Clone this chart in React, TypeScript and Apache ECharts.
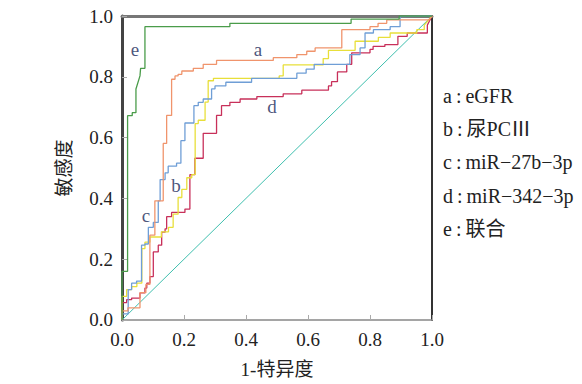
import React, { useEffect, useRef } from "react";
import * as echarts from "echarts";

const xTicks = [0, 0.2, 0.4, 0.6, 0.8, 1.0];
const legendLines = [
  "a\u2009:\u2009eGFR",
  "b\u2009:\u2009尿PCⅢ",
  "c\u2009:\u2009miR−27b−3p",
  "d\u2009:\u2009miR−342−3p",
  "e\u2009:\u2009联合",
];

const curveA: number[][] = [
  [0, 0], [0, 0.03], [0.019, 0.03], [0.019, 0.04], [0.058, 0.04], [0.058, 0.09], [0.077, 0.09],
  [0.077, 0.117], [0.09, 0.117], [0.09, 0.279], [0.106, 0.279], [0.106, 0.392], [0.133, 0.392],
  [0.133, 0.581], [0.144, 0.581], [0.144, 0.673], [0.16, 0.673], [0.16, 0.792], [0.171, 0.792],
  [0.171, 0.803], [0.181, 0.803], [0.181, 0.808], [0.193, 0.808], [0.193, 0.819], [0.23, 0.819],
  [0.23, 0.828], [0.262, 0.828], [0.262, 0.841], [0.305, 0.841], [0.305, 0.854], [0.488, 0.854],
  [0.488, 0.863], [0.564, 0.863], [0.564, 0.873], [0.596, 0.873], [0.596, 0.884], [0.623, 0.884],
  [0.623, 0.895], [0.709, 0.895], [0.709, 0.955], [0.8, 0.955], [0.8, 0.965], [0.826, 0.965],
  [0.826, 0.976], [0.854, 0.976], [0.854, 0.987], [0.99, 0.987], [1, 1],
];

const curveB: number[][] = [
  [0, 0], [0, 0.078], [0.015, 0.078], [0.015, 0.1], [0.031, 0.1], [0.031, 0.11], [0.048, 0.11],
  [0.048, 0.121], [0.064, 0.121], [0.064, 0.235], [0.074, 0.235], [0.074, 0.256], [0.09, 0.256],
  [0.09, 0.273], [0.127, 0.273], [0.127, 0.29], [0.15, 0.29], [0.15, 0.305], [0.165, 0.305],
  [0.165, 0.348], [0.181, 0.348], [0.181, 0.403], [0.193, 0.403], [0.193, 0.43], [0.209, 0.43],
  [0.209, 0.468], [0.225, 0.468], [0.225, 0.478], [0.236, 0.478], [0.236, 0.646], [0.246, 0.646],
  [0.246, 0.657], [0.268, 0.657], [0.268, 0.717], [0.278, 0.717], [0.278, 0.787], [0.295, 0.787],
  [0.295, 0.795], [0.507, 0.795], [0.507, 0.803], [0.52, 0.803], [0.52, 0.839], [0.649, 0.839],
  [0.649, 0.86], [0.666, 0.86], [0.666, 0.887], [0.752, 0.887], [0.752, 0.917], [0.827, 0.917],
  [0.827, 0.93], [0.865, 0.93], [0.865, 0.944], [0.951, 0.944], [0.951, 0.955], [0.975, 0.955],
  [0.975, 0.97], [1, 1],
];

const curveC: number[][] = [
  [0, 0], [0, 0.02], [0.02, 0.02], [0.02, 0.1], [0.031, 0.1], [0.031, 0.121], [0.047, 0.121],
  [0.047, 0.128], [0.063, 0.128], [0.063, 0.246], [0.074, 0.246], [0.074, 0.25], [0.085, 0.25],
  [0.085, 0.305], [0.101, 0.305], [0.101, 0.321], [0.117, 0.321], [0.117, 0.392], [0.123, 0.392],
  [0.123, 0.462], [0.139, 0.462], [0.139, 0.484], [0.149, 0.484], [0.149, 0.506], [0.176, 0.506],
  [0.176, 0.516], [0.19, 0.516], [0.19, 0.59], [0.203, 0.59], [0.203, 0.648], [0.232, 0.648],
  [0.232, 0.705], [0.246, 0.705], [0.246, 0.716], [0.262, 0.716], [0.262, 0.727], [0.289, 0.727],
  [0.289, 0.76], [0.3, 0.76], [0.3, 0.77], [0.335, 0.77], [0.335, 0.782], [0.418, 0.782],
  [0.418, 0.795], [0.564, 0.795], [0.564, 0.812], [0.594, 0.812], [0.594, 0.825], [0.62, 0.825],
  [0.62, 0.841], [0.735, 0.841], [0.735, 0.873], [0.768, 0.873], [0.768, 0.895], [0.784, 0.895],
  [0.784, 0.944], [0.811, 0.944], [0.811, 0.955], [0.865, 0.955], [0.865, 0.965], [0.897, 0.965],
  [0.897, 0.998], [1, 1],
];

const curveD: number[][] = [
  [0, 0], [0, 0.057], [0.015, 0.057], [0.015, 0.067], [0.031, 0.067], [0.031, 0.072], [0.058, 0.072],
  [0.058, 0.089], [0.074, 0.089], [0.074, 0.105], [0.08, 0.105], [0.08, 0.121], [0.09, 0.121],
  [0.09, 0.143], [0.101, 0.143], [0.101, 0.224], [0.117, 0.224], [0.117, 0.246], [0.128, 0.246],
  [0.128, 0.289], [0.139, 0.289], [0.139, 0.3], [0.144, 0.3], [0.144, 0.34], [0.16, 0.34],
  [0.16, 0.354], [0.203, 0.354], [0.203, 0.365], [0.219, 0.365], [0.219, 0.478], [0.235, 0.478],
  [0.235, 0.532], [0.262, 0.532], [0.262, 0.614], [0.305, 0.614], [0.305, 0.673], [0.321, 0.673],
  [0.321, 0.705], [0.348, 0.705], [0.348, 0.716], [0.381, 0.716], [0.381, 0.727], [0.435, 0.727],
  [0.435, 0.735], [0.52, 0.735], [0.52, 0.744], [0.58, 0.744], [0.58, 0.756], [0.666, 0.756],
  [0.666, 0.77], [0.676, 0.77], [0.676, 0.784], [0.695, 0.784], [0.695, 0.816], [0.725, 0.816],
  [0.725, 0.841], [0.741, 0.841], [0.741, 0.879], [0.8, 0.879], [0.8, 0.89], [0.81, 0.89],
  [0.81, 0.9], [0.848, 0.9], [0.848, 0.906], [0.89, 0.906], [0.89, 0.933], [0.92, 0.933],
  [0.92, 0.944], [0.985, 0.944], [0.985, 0.97], [1, 1],
];

const curveE: number[][] = [
  [0, 0], [0, 0.16], [0.018, 0.16], [0.018, 0.672], [0.033, 0.672], [0.033, 0.682], [0.045, 0.682],
  [0.045, 0.76], [0.058, 0.803], [0.06, 0.828], [0.074, 0.828], [0.074, 0.965], [0.348, 0.965],
  [0.348, 0.976], [0.739, 0.976], [0.739, 0.99], [0.894, 0.99], [0.894, 1], [1, 1],
];

const diagonal: number[][] = [[0, 0], [1, 1]];

const curveLabels = ["a", "b", "c", "d", "e"];
const curveLabelPos: number[][] = [[0.439, 0.89], [0.174, 0.442], [0.077, 0.344], [0.484, 0.701], [0.042, 0.89]];

const FONT = "'Liberation Serif', 'Noto Sans CJK SC', serif";

export default function App() {
  const ref = useRef<HTMLDivElement>(null);
  useEffect(() => {
    if (!ref.current) return;
    const chart = echarts.init(ref.current, null, { renderer: "svg" });
    const line = (data: number[][], color: string, width = 1.3) => ({
      type: "line",
      data,
      symbol: "none",
      silent: true,
      lineStyle: { color, width },
      z: 3,
    });
    chart.setOption({
      animation: false,
      textStyle: { fontFamily: FONT },
      grid: { left: 122, top: 16, width: 310, height: 308 },
      xAxis: [
        {
          type: "value",
          min: 0,
          max: 1,
          interval: 0.2,
          position: "bottom",
          name: "1-特异度",
          nameLocation: "middle",
          nameGap: 40,
          nameTextStyle: { fontSize: 19, color: "#222", fontFamily: FONT },
          axisLine: { show: true, lineStyle: { color: "#888", width: 1.5 } },
          axisTick: { show: true, inside: true, length: 5, lineStyle: { color: "#aaa" } },
          axisLabel: {
            fontSize: 19,
            color: "#222",
            margin: 10,
            fontFamily: FONT,
            formatter: (v: number) => v.toFixed(1),
          },
          splitLine: { show: false },
        },
        {
          type: "value",
          min: 0,
          max: 1,
          position: "top",
          axisLine: { show: true, onZero: false, lineStyle: { color: "#777", width: 3 } },
          axisTick: { show: false },
          axisLabel: { show: false },
          splitLine: { show: false },
        },
      ],
      yAxis: [
        {
          type: "value",
          min: 0,
          max: 1,
          interval: 0.2,
          position: "left",
          name: "敏感度",
          nameLocation: "middle",
          nameGap: 48,
          nameRotate: 90,
          nameTextStyle: { fontSize: 19, color: "#222", fontFamily: FONT },
          axisLine: { show: true, lineStyle: { color: "#444", width: 3 } },
          axisTick: { show: true, inside: true, length: 5, lineStyle: { color: "#aaa" } },
          axisLabel: {
            fontSize: 19,
            color: "#222",
            margin: 9,
            fontFamily: FONT,
            formatter: (v: number) => v.toFixed(1),
          },
          splitLine: { show: false },
        },
        {
          type: "value",
          min: 0,
          max: 1,
          position: "right",
          axisLine: { show: true, onZero: false, lineStyle: { color: "#333", width: 2 } },
          axisTick: { show: false },
          axisLabel: { show: false },
          splitLine: { show: false },
        },
      ],
      series: [
        { ...line(diagonal, "#3fbfae", 1), z: 2 },
        line(curveD, "#c8305a"),
        line(curveB, "#e8df3a"),
        line(curveC, "#6f9ed6"),
        line(curveA, "#f0946c"),
        line(curveE, "#4a9c4a"),
        {
          type: "scatter",
          symbolSize: 0,
          silent: true,
          data: curveLabelPos.map((p, i) => ({ value: p, name: curveLabels[i] })),
          label: {
            show: true,
            position: "inside",
            formatter: (p: any) => p.name,
            fontSize: 19,
            color: "#1a2a5a",
            fontFamily: FONT,
          },
          z: 5,
        },
      ],
      graphic: legendLines.map((t, i) => ({
        type: "text",
        left: 443,
        top: 86 + i * 33.2,
        style: { text: t, fontSize: 20, fill: "#222", fontFamily: FONT },
      })),
    });
    return () => chart.dispose();
  }, []);
  return (
    <div
      ref={ref}
      style={{ position: "fixed", left: 0, top: 0, width: 582, height: 384, background: "#fff" }}
    />
  );
}
